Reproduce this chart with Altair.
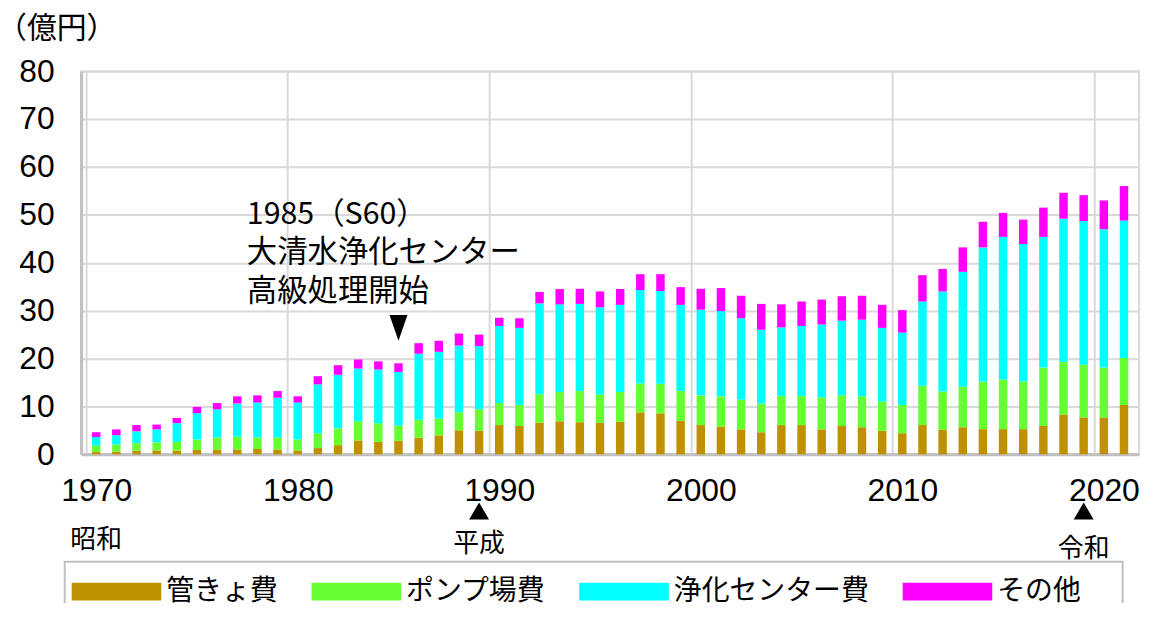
import altair as alt
import pandas as pd

# ---------------- data ----------------
years = list(range(1970, 2022))
kankyo = [0.5, 0.55, 0.75, 0.8, 0.75, 0.9, 1.0, 1.0, 1.1, 1.0,
          0.8, 1.3, 1.9, 2.9, 2.6, 2.8, 3.45, 3.95, 5.0, 4.9,
          6.1, 5.9, 6.6, 6.9, 6.7, 6.6, 6.8, 8.75, 8.55, 7.0,
          6.1, 5.8, 5.2, 4.6, 6.1, 6.1, 5.2, 5.9, 5.65, 4.9,
          4.4, 6.1, 5.1, 5.65, 5.25, 5.25, 5.25, 5.9, 8.3, 7.7,
          7.7, 10.3]
pump = [1.3, 1.5, 1.55, 1.7, 1.85, 2.2, 2.5, 2.7, 2.4, 2.5,
        2.3, 3.1, 3.5, 4.0, 3.9, 3.2, 3.75, 3.5, 3.8, 4.5,
        4.6, 4.4, 5.95, 6.1, 6.5, 5.9, 6.2, 6.05, 6.2, 6.2,
        6.2, 6.3, 6.2, 6.0, 6.1, 6.1, 6.7, 6.4, 6.45, 6.1,
        5.9, 8.2, 8.0, 8.45, 9.95, 10.35, 9.95, 12.2, 11.0, 11.0,
        10.4, 9.8]
center = [1.8, 1.95, 2.5, 2.7, 3.9, 5.5, 5.9, 6.9, 7.3, 8.3,
          7.7, 10.2, 11.2, 11.0, 11.2, 11.2, 13.8, 13.95, 13.9, 13.2,
          16.1, 16.1, 18.95, 18.3, 18.2, 18.2, 18.2, 19.5, 19.35, 18.0,
          17.9, 17.8, 17.0, 15.4, 14.3, 14.6, 15.2, 15.6, 16.0, 15.4,
          15.1, 17.6, 20.9, 24.0, 28.0, 29.8, 28.7, 27.3, 29.9, 30.0,
          28.9, 28.7]
other = [1.0, 1.2, 1.3, 1.0, 1.1, 1.3, 1.3, 1.5, 1.5, 1.4,
         1.3, 1.7, 2.0, 1.9, 1.7, 1.8, 2.2, 2.3, 2.5, 2.4,
         1.7, 2.0, 2.4, 3.2, 3.15, 3.3, 3.3, 3.3, 3.5, 3.7,
         4.35, 4.8, 4.7, 5.4, 4.8, 5.1, 5.2, 5.1, 5.0, 4.8,
         4.7, 5.5, 4.7, 5.1, 5.35, 5.0, 5.1, 6.1, 5.4, 5.4,
         6.0, 7.2]
categories = ["管きょ費", "ポンプ場費", "浄化センター費", "その他"]
colors = ["#BF9000", "#66FF33", "#00FFFF", "#FF00FF"]
x_ticks = [1970, 1980, 1990, 2000, 2010, 2020]
y_ticks = [0, 10, 20, 30, 40, 50, 60, 70, 80]
y_title = "（億円）"
annot_lines = ["1985（S60）", "大清水浄化センター", "高級処理開始"]
annot_year = 1985
era_names = ["昭和", "平成", "令和"]
era_years = [1970, 1989, 2019]
era_marker_years = [1989, 2019]

rows = []
for i, yr in enumerate(years):
    for k, (cat, vals) in enumerate(zip(categories, [kankyo, pump, center, other])):
        rows.append({"year": yr, "cat": cat, "ord": k, "value": vals[i]})
df = pd.DataFrame(rows)

# ---------------- layout / style ----------------
W, H = 1063, 385
NUM_FONT = "Liberation Sans"
JP_FONT = "Noto Sans CJK JP"
GRID = "#d9d9d9"
DOMAIN = "#bfbfbf"

xscale = alt.Scale(domain=[1970, 2022], nice=False, zero=False)
yscale = alt.Scale(domain=[0, 80], nice=False)

bars = alt.Chart(df).transform_calculate(xc="datum.year + 0.5").mark_bar(width=8.5).encode(
    x=alt.X("xc:Q", scale=xscale, title=None,
            axis=alt.Axis(values=x_ticks, format="d", labelOffset=10.2, labelFlush=False,
                          labelOverlap=False, ticks=False, tickSize=0, grid=True,
                          gridColor=GRID, gridWidth=2, domainColor=DOMAIN, domainWidth=3,
                          labelFont=NUM_FONT, labelFontSize=32, labelColor="black",
                          labelPadding=21)),
    y=alt.Y("value:Q", stack="zero", scale=yscale,
            axis=alt.Axis(values=y_ticks, title=y_title, titleAngle=0, titleX=-85, titleY=-43,
                          titleAlign="left", titleBaseline="middle", titleFont=JP_FONT,
                          titleFontSize=30, titleFontWeight="normal", titleColor="black",
                          ticks=False, tickSize=0, grid=True, gridColor=GRID, gridWidth=2,
                          domainColor=DOMAIN, domainWidth=3, labelFont=NUM_FONT,
                          labelFontSize=32, labelColor="black", labelPadding=27)),
    color=alt.Color("cat:N", sort=categories,
                    scale=alt.Scale(domain=categories, range=colors),
                    legend=alt.Legend(title=None, orient="none", legendX=-9.5, legendY=478,
                                      direction="horizontal", columns=4,
                                      symbolType="M-1,-0.2H1V0.2H-1Z", symbolSize=8100,
                                      symbolStrokeWidth=0, symbolOpacity=1,
                                      labelFont=JP_FONT, labelFontSize=28, labelColor="black",
                                      labelLimit=400, labelOffset=5, columnPadding=33,
                                      padding=0)),
    order=alt.Order("ord:Q", sort="ascending"),
)

legend_box = alt.Chart(pd.DataFrame({"a": [0]})).mark_rect(
    fill=None, stroke=DOMAIN, strokeWidth=2
).encode(x=alt.value(-16.5), x2=alt.value(1046.5), y=alt.value(493), y2=alt.value(570))

annot_y = [145, 183, 222]
annot_layers = []
for line, ypix in zip(annot_lines, annot_y):
    annot_layers.append(
        alt.Chart(pd.DataFrame({"t": [line]})).mark_text(
            font=JP_FONT, fontSize=30.5, align="left", baseline="middle", color="black"
        ).encode(x=alt.value(166.5), y=alt.value(ypix), text="t:N")
    )

down_marker = alt.Chart(pd.DataFrame({"year": [annot_year]})).transform_calculate(
    xc="datum.year + 0.5").mark_point(
    shape="M-1,-1.44L1,-1.44L0,1.44Z", size=324, filled=True, color="black", opacity=1
).encode(x=alt.X("xc:Q", scale=xscale), y=alt.value(258))

up_markers = alt.Chart(pd.DataFrame({"year": era_marker_years})).transform_calculate(
    xc="datum.year + 0.5").mark_point(
    shape="triangle-up", size=400, filled=True, color="black", opacity=1
).encode(x=alt.X("xc:Q", scale=xscale), y=alt.value(442))

era_y = [471, 475, 480]
era_layers = []
for name, yr, ypix in zip(era_names, era_years, era_y):
    era_layers.append(
        alt.Chart(pd.DataFrame({"year": [yr], "name": [name]})).transform_calculate(
            xc="datum.year + 0.5").mark_text(
            font=JP_FONT, fontSize=26, color="black", align="center", baseline="middle"
        ).encode(x=alt.X("xc:Q", scale=xscale), y=alt.value(ypix), text="name:N")
    )

chart = alt.layer(bars, legend_box, *annot_layers, down_marker, up_markers,
                  *era_layers).properties(
    width=W, height=H,
    autosize=alt.AutoSizeParams(type="none"),
    padding={"left": 73.5, "top": 62, "right": 6, "bottom": 148},
).configure_view(stroke=GRID, strokeWidth=2)

chart.save("out.html", embed_options={"renderer": "svg", "actions": False})
